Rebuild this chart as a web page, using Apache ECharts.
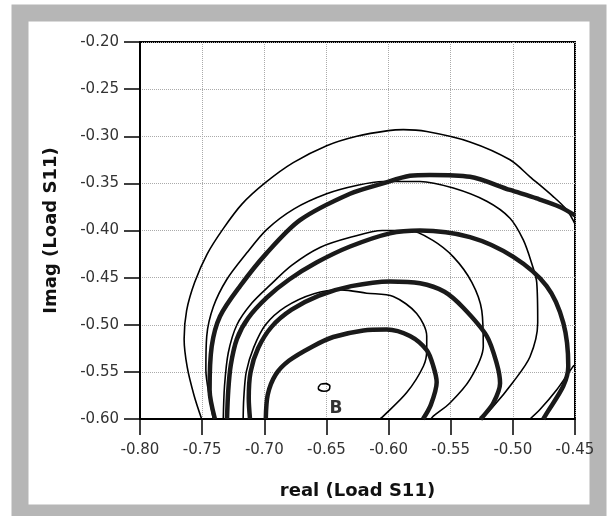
<!DOCTYPE html>
<html>
<head>
<meta charset="utf-8">
<script src="https://cdn.jsdelivr.net/npm/echarts@6.0.0/dist/echarts.min.js"></script>
<style>
  html, body { margin: 0; padding: 0; background: #fff; }
  #chart { width: 612px; height: 516px; }
</style>
</head>
<body>
<div id="chart"></div>
<script>
// axis ranges / ticks
const xTicks = [-0.80, -0.75, -0.70, -0.65, -0.60, -0.55, -0.50, -0.45]
const yTicks = [-0.60, -0.55, -0.50, -0.45, -0.40, -0.35, -0.30, -0.25, -0.20]

// thin contours, [real, imag]
const thinOuter = [
  [-0.7504, -0.600], [-0.7565, -0.575], [-0.7620, -0.545], [-0.7645, -0.515],
  [-0.7625, -0.485], [-0.7560, -0.455], [-0.7460, -0.425], [-0.7330, -0.398],
  [-0.7180, -0.372], [-0.6989, -0.349], [-0.6767, -0.328], [-0.6498, -0.310],
  [-0.6256, -0.300], [-0.6002, -0.294], [-0.5881, -0.293], [-0.5693, -0.295],
  [-0.5345, -0.306], [-0.5023, -0.325], [-0.4862, -0.343], [-0.4675, -0.364],
  [-0.4567, -0.378], [-0.4500, -0.393]
]
const thinB = [
  [-0.7410, -0.600], [-0.7437, -0.580], [-0.7470, -0.548], [-0.7463, -0.512],
  [-0.7410, -0.481], [-0.7302, -0.452], [-0.7142, -0.424], [-0.6981, -0.399],
  [-0.6760, -0.377], [-0.6498, -0.361], [-0.6250, -0.352], [-0.6044, -0.348],
  [-0.5747, -0.348], [-0.5479, -0.355], [-0.5210, -0.369], [-0.5023, -0.387],
  [-0.4916, -0.410], [-0.4848, -0.435], [-0.4808, -0.455], [-0.4800, -0.498],
  [-0.4862, -0.534], [-0.4999, -0.561], [-0.5160, -0.587], [-0.5264, -0.600]
]
const thinD = [
  [-0.7330, -0.600], [-0.7320, -0.565], [-0.7290, -0.530], [-0.7220, -0.500],
  [-0.7100, -0.477], [-0.6954, -0.458], [-0.6780, -0.437], [-0.6552, -0.418],
  [-0.6300, -0.407], [-0.6050, -0.400], [-0.5830, -0.400], [-0.5650, -0.410],
  [-0.5479, -0.428], [-0.5330, -0.455], [-0.5250, -0.485], [-0.5238, -0.523],
  [-0.5345, -0.558], [-0.5506, -0.583], [-0.5640, -0.597], [-0.5660, -0.600]
]
const thinE = [
  [-0.7170, -0.600], [-0.7165, -0.578], [-0.7145, -0.550], [-0.7085, -0.524],
  [-0.6990, -0.500], [-0.6830, -0.481], [-0.6600, -0.467], [-0.6380, -0.463],
  [-0.6176, -0.4665], [-0.5962, -0.470], [-0.5774, -0.488], [-0.5693, -0.512],
  [-0.5693, -0.527], [-0.5720, -0.544], [-0.5854, -0.572], [-0.6042, -0.597],
  [-0.6070, -0.600]
]
const thinC = [
  [-0.4500, -0.543], [-0.4514, -0.544], [-0.4647, -0.569], [-0.4782, -0.590], [-0.4862, -0.600]
]
const thinSmall = [
  [-0.6566, -0.5665], [-0.6545, -0.5630], [-0.6505, -0.5625], [-0.6472, -0.5650],
  [-0.6480, -0.5690], [-0.6520, -0.5706], [-0.6560, -0.5690], [-0.6566, -0.5665]
]

// thick contours
const thickA = [
  [-0.7397, -0.600], [-0.7440, -0.569], [-0.7423, -0.523], [-0.7356, -0.491],
  [-0.7195, -0.459], [-0.6981, -0.424], [-0.6713, -0.389], [-0.6310, -0.361],
  [-0.6045, -0.350], [-0.5828, -0.342], [-0.5667, -0.341], [-0.5345, -0.343],
  [-0.5023, -0.357], [-0.4808, -0.366], [-0.4621, -0.375], [-0.4500, -0.384]
]
const thick3 = [
  [-0.7300, -0.600], [-0.7290, -0.570], [-0.7270, -0.543], [-0.7220, -0.515],
  [-0.7130, -0.493], [-0.6978, -0.471], [-0.6800, -0.452], [-0.6580, -0.434],
  [-0.6310, -0.417], [-0.5989, -0.403], [-0.5747, -0.400], [-0.5345, -0.407],
  [-0.4996, -0.428], [-0.4728, -0.459], [-0.4594, -0.498], [-0.4554, -0.544],
  [-0.4594, -0.565], [-0.4728, -0.594], [-0.4755, -0.600]
]
const thick2 = [
  [-0.7115, -0.600], [-0.7125, -0.578], [-0.7110, -0.550], [-0.7050, -0.525],
  [-0.6940, -0.502], [-0.6780, -0.484], [-0.6560, -0.469], [-0.6300, -0.459],
  [-0.5989, -0.454], [-0.5747, -0.456], [-0.5550, -0.465], [-0.5399, -0.482],
  [-0.5210, -0.512], [-0.5130, -0.541], [-0.5103, -0.562], [-0.5157, -0.583],
  [-0.5238, -0.597], [-0.5260, -0.600]
]
const thick1 = [
  [-0.6988, -0.600], [-0.6972, -0.574], [-0.6909, -0.553], [-0.6800, -0.538],
  [-0.6611, -0.523], [-0.6445, -0.513], [-0.6202, -0.506], [-0.6015, -0.505],
  [-0.5828, -0.512], [-0.5693, -0.527], [-0.5640, -0.544], [-0.5613, -0.561],
  [-0.5660, -0.585], [-0.5723, -0.600]
]

// marker "B"
const markB = [[-0.6424, -0.589]]

const thinLine = (name, data) => ({
  name, type: 'line', data, showSymbol: false, smooth: 0.3, clip: true,
  silent: true, lineStyle: { color: '#000', width: 1.6 }
})
const thickLine = (name, data) => ({
  name, type: 'line', data, showSymbol: false, smooth: 0.3, clip: true,
  silent: true, lineStyle: { color: '#1a1a1a', width: 4.5 }
})

const chart = echarts.init(document.getElementById('chart'))

const axisCommon = {
  type: 'value',
  nameLocation: 'middle',
  nameTextStyle: { fontFamily: 'DejaVu Sans', fontWeight: 'bold', fontSize: 18, color: '#111' },
  axisLine: { show: true, onZero: false, lineStyle: { color: '#000', width: 2 } },
  axisTick: { show: true, length: 16, lineStyle: { color: '#000', width: 1.5 } },
  axisLabel: {
    fontFamily: 'DejaVu Sans', fontSize: 15, color: '#333',
    formatter: v => v.toFixed(2)
  },
  splitLine: { show: true, lineStyle: { color: '#aaa', type: 'dotted', width: 1 } }
}

chart.setOption({
  animation: false,
  backgroundColor: '#fff',
  grid: { left: 140, right: 37, top: 42, bottom: 97, show: true, borderColor: '#000', borderWidth: 2 },
  graphic: [{
    type: 'rect', z: -10, silent: true,
    shape: { x: 20, y: 13, width: 578, height: 500 },
    style: { fill: 'none', stroke: '#b6b6b6', lineWidth: 17 }
  }],
  xAxis: Object.assign({}, axisCommon, {
    min: xTicks[0], max: xTicks[xTicks.length - 1], interval: 0.05,
    name: 'real (Load S11)', nameGap: 63,
    axisLabel: Object.assign({}, axisCommon.axisLabel, { margin: 24 })
  }),
  yAxis: Object.assign({}, axisCommon, {
    min: yTicks[0], max: yTicks[yTicks.length - 1], interval: 0.05,
    name: 'Imag (Load S11)', nameGap: 80, nameRotate: 90,
    axisLabel: Object.assign({}, axisCommon.axisLabel, { margin: 21 })
  }),
  series: [
    thinLine('outer', thinOuter),
    thinLine('b', thinB),
    thinLine('d', thinD),
    thinLine('e', thinE),
    thinLine('c', thinC),
    thinLine('small', thinSmall),
    thickLine('A', thickA),
    thickLine('3', thick3),
    thickLine('2', thick2),
    thickLine('1', thick1),
    {
      name: 'B', type: 'scatter', data: markB, symbolSize: 0, silent: true,
      label: {
        show: true, formatter: 'B', position: 'inside',
        fontFamily: 'DejaVu Sans', fontWeight: 900, fontSize: 17, color: '#000'
      }
    }
  ]
})
</script>
</body>
</html>
